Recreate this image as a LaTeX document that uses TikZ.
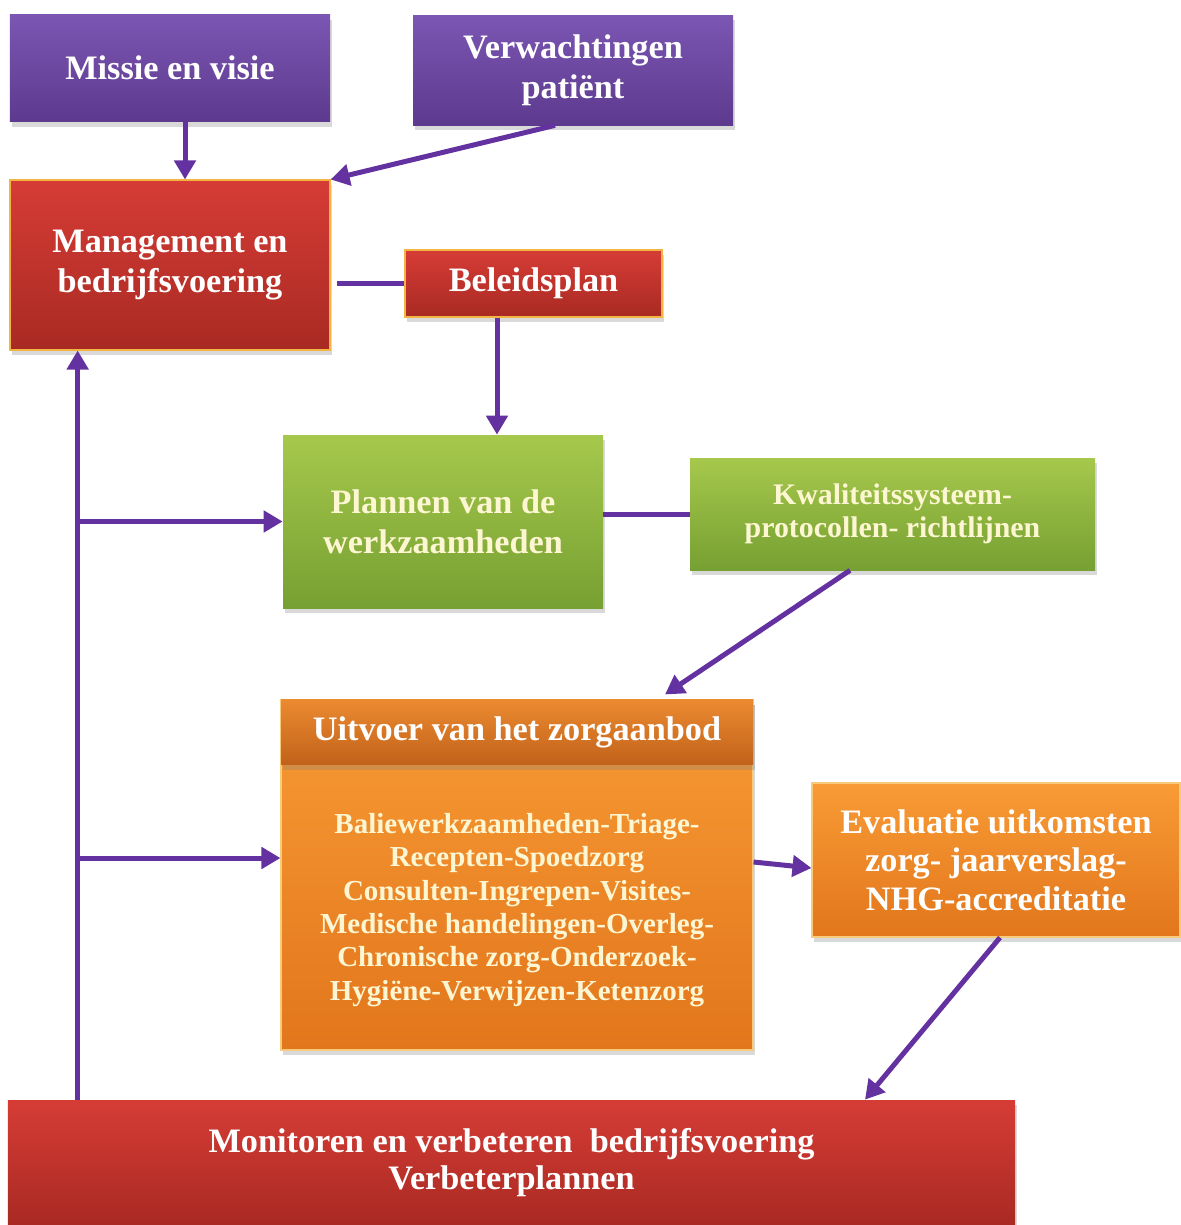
\documentclass[tikz,border=0pt]{standalone}
\usepackage{fontspec}
\setmainfont{Liberation Serif}
\usepackage{tikz}
\usetikzlibrary{arrows.meta,positioning,shadows}

\definecolor{paars}{HTML}{6432A0}
\definecolor{paarsboven}{HTML}{7B56B3}
\definecolor{paarsonder}{HTML}{5D3A8E}
\definecolor{roodboven}{HTML}{D63C36}
\definecolor{roodonder}{HTML}{A82A22}
\definecolor{groenboven}{HTML}{A6C84C}
\definecolor{groenonder}{HTML}{76A032}
\definecolor{oranjeboven}{HTML}{F89B35}
\definecolor{oranjeonder}{HTML}{E2761C}
\definecolor{kopboven}{HTML}{EB8A30}
\definecolor{koponder}{HTML}{C2621A}
\definecolor{randgeel}{HTML}{F3B443}
\definecolor{creme}{HTML}{FDF6D2}

\begin{document}
\begin{tikzpicture}[
  box/.style={align=center, text=white, font=\bfseries\fontsize{19.5}{22.8}\selectfont,
              drop shadow={opacity=0.3, shadow xshift=0.04cm, shadow yshift=-0.1cm}},
  pbox/.style={box, top color=paarsboven, bottom color=paarsonder},
  rbox/.style={box, top color=roodboven, bottom color=roodonder, draw=randgeel, line width=0.6pt},
  gbox/.style={box, top color=groenboven, bottom color=groenonder, text=creme},
  obox/.style={box, top color=oranjeboven, bottom color=oranjeonder, draw=randgeel!70!white, line width=0.6pt},
  pijl/.style={-{Triangle[length=0.38cm, width=0.42cm]}, paars, line width=0.1cm},
  lijn/.style={paars, line width=0.1cm}
]
\useasboundingbox (0,0) rectangle (23.6,-24.5);

% --- Bovenste rij ---
\node[pbox, minimum width=6.4cm, minimum height=2.14cm] (missie) at (3.4,-1.36) {Missie en visie};
\node[pbox, minimum width=6.4cm, minimum height=2.2cm] (verw) at (11.46,-1.4) {Verwachtingen\\patiënt};

% --- Management ---
\node[rbox, minimum width=6.4cm, minimum height=3.4cm] (mgmt) at (3.4,-5.3) {Management en\\bedrijfsvoering};
\node[rbox, minimum width=5.14cm, minimum height=1.34cm] (beleid) at (10.67,-5.67) {Beleidsplan};

% --- Planning ---
\node[gbox, minimum width=6.4cm, minimum height=3.46cm] (plannen) at (8.86,-10.43) {Plannen van de\\werkzaamheden};
\node[gbox, minimum width=8.1cm, minimum height=2.24cm, font=\bfseries\fontsize{17}{18.5}\selectfont] (kwal) at (17.85,-10.28) {Kwaliteitssysteem-\\protocollen- richtlijnen};

% --- Uitvoer ---
\node[obox, minimum width=9.44cm, minimum height=7cm] (uitvoer) at (10.34,-17.5) {};
\node[box, anchor=north, minimum width=9.44cm, minimum height=1.3cm, top color=kopboven, bottom color=koponder,
      drop shadow={opacity=0}] (uitkop) at (uitvoer.north) {Uitvoer van het zorgaanbod};
\node[align=center, text=creme, font=\bfseries\fontsize{16.5}{19}\selectfont] (uitlijst) at (10.34,-18.2)
  {Baliewerkzaamheden-Triage-\\Recepten-Spoedzorg\\Consulten-Ingrepen-Visites-\\Medische handelingen-Overleg-\\Chronische zorg-Onderzoek-\\Hygiëne-Verwijzen-Ketenzorg};
\node[obox, minimum width=7.36cm, minimum height=3.08cm, font=\bfseries\fontsize{19.5}{22}\selectfont] (eval) at (19.92,-17.2)
  {Evaluatie uitkomsten\\zorg- jaarverslag-\\NHG-accreditatie};

% --- Monitoren ---
\node[box, top color=roodboven, bottom color=roodonder, minimum width=20.14cm, minimum height=2.5cm,
      font=\bfseries\fontsize{19.5}{21}\selectfont] (monitor) at (10.23,-23.25)
  {Monitoren en verbeteren\ \ bedrijfsvoering\\Verbeterplannen};

% Pijlen
\draw[pijl] ([xshift=0.3cm]missie.south) -- ([xshift=0.3cm]mgmt.north);
\draw[pijl] ([xshift=-0.36cm]verw.south) -- (mgmt.north east);
\draw[lijn] (beleid.west) -- ([xshift=0.12cm]beleid.west -| mgmt.east);
\draw[pijl] ([xshift=-0.73cm]beleid.south) -- ([xshift=-0.73cm]beleid.south |- plannen.north);
\draw[lijn] (kwal.west) -- (kwal.west -| plannen.east);
\draw[pijl] ([xshift=-0.85cm]kwal.south) -- ([xshift=2.96cm,yshift=0.1cm]uitvoer.north);
\draw[pijl] ([yshift=0.26cm]uitvoer.east) -- ([yshift=-0.16cm]eval.west);
\draw[pijl] ([xshift=0.08cm]eval.south) -- ([xshift=7.07cm]monitor.north);

% Terugkoppeling
\coordinate (terug) at ([xshift=1.4cm]monitor.north west);
\coordinate (uitin) at ([yshift=0.34cm]uitvoer.west);
\draw[pijl] (terug) -- (terug |- mgmt.south);
\draw[pijl] (terug |- plannen.west) -- (plannen.west);
\draw[pijl] (terug |- uitin) -- (uitin);

\end{tikzpicture}
\end{document}
